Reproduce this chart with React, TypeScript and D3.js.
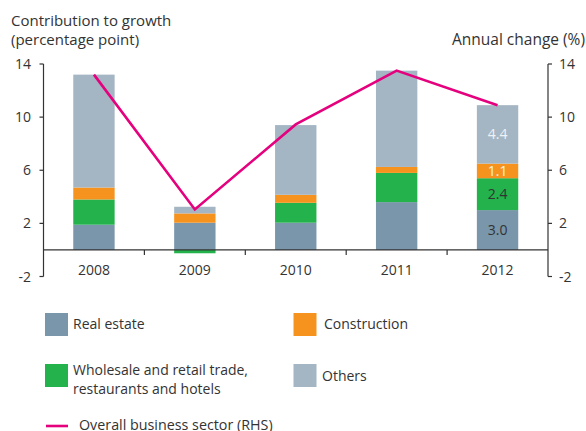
import React from "react";
import * as d3 from "d3";

const years = ["2008", "2009", "2010", "2011", "2012"];
const realEstate = [1.9, 2.05, 2.05, 3.6, 3.0];
const wholesale = [1.9, -0.25, 1.5, 2.2, 2.4];
const construction = [0.9, 0.7, 0.6, 0.45, 1.1];
const others = [8.5, 0.5, 5.25, 7.25, 4.4];
const overall = [13.2, 3.05, 9.45, 13.5, 10.9];
const yTicks = [-2, 2, 6, 10, 14];
const labels2012 = ["3.0", "2.4", "1.1", "4.4"];

const seriesKeys = ["realEstate", "wholesale", "construction", "others"];
const seriesNames = [
  "Real estate",
  "Wholesale and retail trade, restaurants and hotels",
  "Construction",
  "Others",
];
const colors: Record<string, string> = {
  realEstate: "#7996aa",
  wholesale: "#23b24b",
  construction: "#f6931f",
  others: "#a4b5c3",
};
const lineColor = "#e5007e";
const textColor = "#333";
const font = "'Open Sans', sans-serif";

export default function App() {
  const W = 586, H = 431;
  const left = 43.5, right = 548;
  const x = d3.scaleBand<string>().domain(years).range([left, right]).paddingInner(0.59).paddingOuter(0.295);
  const y = d3.scaleLinear().domain([-2, 14]).range([276.5, 64]);
  const rows = years.map((yr, i) => ({
    year: yr,
    realEstate: realEstate[i],
    wholesale: wholesale[i],
    construction: construction[i],
    others: others[i],
  }));
  const stacked = d3.stack<any>().keys(seriesKeys).offset(d3.stackOffsetDiverging)(rows);
  const line = d3.line<number>()
    .x((_, i) => (x(years[i]) as number) + x.bandwidth() / 2)
    .y((d) => y(d));
  const labelColors = ["#333", "#333", "#fdf0e0", "#eef2f5"];
  const bw = x.bandwidth();
  return (
    <svg width={W} height={H} style={{ position: "absolute", left: 0, top: 0, background: "#fff" }} fontFamily={font}>
      <text x={11} y={26} fontSize={15} fill={textColor}>Contribution to growth</text>
      <text x={11} y={45} fontSize={15} fill={textColor}>(percentage point)</text>
      <text x={585} y={45} fontSize={15.5} fill={textColor} textAnchor="end">Annual change (%)</text>

      {stacked.map((s) => (
        <g key={s.key} fill={colors[s.key]}>
          {s.map((d: any, i: number) => (
            <rect key={i} x={x(years[i])} width={bw} y={y(Math.max(d[0], d[1]))} height={Math.abs(y(d[0]) - y(d[1]))} />
          ))}
        </g>
      ))}

      {stacked.map((s, k) => {
        const d: any = s[4];
        return (
          <text key={k} x={(x("2012") as number) + bw / 2} y={(y(d[0]) + y(d[1])) / 2 + 5} fontSize={14} textAnchor="middle" fill={labelColors[k]}>
            {labels2012[k]}
          </text>
        );
      })}

      <path d={line(overall) || ""} fill="none" stroke={lineColor} strokeWidth={2.6} />

      {/* axes */}
      <g stroke="#333" strokeWidth={1.2} fill="none">
        <line x1={left} x2={left} y1={y(14)} y2={y(-2)} />
        <line x1={right} x2={right} y1={y(14)} y2={y(-2)} />
        <line x1={left} x2={right} y1={y(0)} y2={y(0)} />
        {yTicks.map((t) => (
          <g key={t}>
            <line x1={left - 4} x2={left} y1={y(t)} y2={y(t)} />
            <line x1={right} x2={right + 4} y1={y(t)} y2={y(t)} />
          </g>
        ))}
        {years.slice(1).map((yr) => {
          const xx = (x(yr) as number) - (x.step() - bw) / 2;
          return <line key={yr} x1={xx} x2={xx} y1={y(0)} y2={y(0) + 5} />;
        })}
      </g>
      {yTicks.map((t) => (
        <g key={t}>
          <text x={31} y={y(t) + 5} fontSize={14} textAnchor="end" fill={textColor}>{t}</text>
          <text x={559} y={y(t) + 5} fontSize={14} fill={textColor}>{t}</text>
        </g>
      ))}
      {years.map((yr) => (
        <text key={yr} x={(x(yr) as number) + bw / 2} y={275} fontSize={14} textAnchor="middle" fill={textColor}>{yr}</text>
      ))}

      {/* legend */}
      <rect x={45} y={313} width={23} height={23} fill={colors.realEstate} />
      <text x={73} y={329} fontSize={14} fill={textColor}>{seriesNames[0]}</text>
      <rect x={293.5} y={313} width={23} height={23} fill={colors.construction} />
      <text x={324} y={329} fontSize={14} fill={textColor}>{seriesNames[2]}</text>
      <rect x={45} y={364} width={23} height={23} fill={colors.wholesale} />
      <text x={73} y={375} fontSize={14} fill={textColor}>Wholesale and retail trade,</text>
      <text x={73} y={394} fontSize={14} fill={textColor}>restaurants and hotels</text>
      <rect x={293.5} y={364} width={23} height={23} fill={colors.others} />
      <text x={322} y={381} fontSize={14} fill={textColor}>{seriesNames[3]}</text>
      <line x1={46} x2={68} y1={426} y2={426} stroke={lineColor} strokeWidth={2.6} />
      <text x={79} y={430} fontSize={14.3} fill={textColor}>Overall business sector (RHS)</text>
    </svg>
  );
}
